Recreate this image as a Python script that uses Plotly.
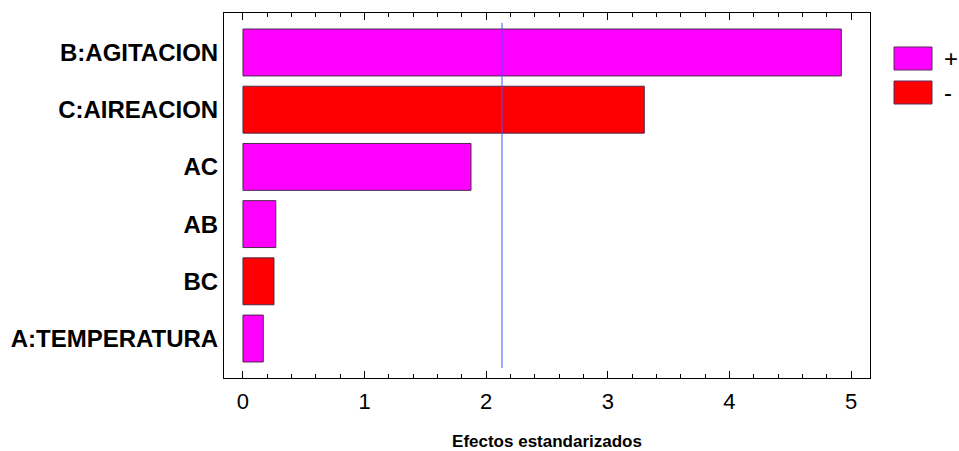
import plotly.graph_objects as go

# Standardized effects (Pareto chart), listed from largest to smallest
factors = ["B:AGITACION", "C:AIREACION", "AC", "AB", "BC", "A:TEMPERATURA"]
effects = [4.92, 3.30, 1.875, 0.27, 0.255, 0.167]
signs = ["+", "-", "+", "+", "-", "+"]
critical_value = 2.13

sign_colors = {"+": "#FF00FF", "-": "#FF0000"}
legend_labels = ["+", "-"]
font_family = "Liberation Sans, Arial, sans-serif"

fig = go.Figure()
fig.add_trace(go.Bar(
    x=effects,
    y=factors,
    orientation="h",
    marker=dict(color=[sign_colors[s] for s in signs],
                line=dict(color="#4a2a4a", width=1)),
    showlegend=False,
    hoverinfo="x+y",
))

# critical value reference line
fig.add_shape(type="line", xref="x", yref="paper",
              x0=critical_value, x1=critical_value, y0=0.027, y1=0.973,
              line=dict(color="#5050ff", width=1))

# legend boxes drawn at fixed size to the right of the plot frame
box_x0, box_x1 = 894, 932
box_tops = [47, 81]
W, H = 959, 451
L, R, T, B = 224, 89, 13, 73
pw, ph = W - L - R, H - T - B
for lab, top in zip(legend_labels, box_tops):
    fig.add_shape(type="rect", xref="paper", yref="paper",
                  x0=(box_x0 - L) / pw, x1=(box_x1 - L) / pw,
                  y0=1 - (top + 23 - T) / ph, y1=1 - (top - T) / ph,
                  fillcolor=sign_colors[lab],
                  line=dict(color="#5a2a5a", width=1))
    fig.add_annotation(xref="paper", yref="paper",
                       x=(942 - L) / pw, y=1 - (top + 11.5 - T) / ph,
                       text=lab, showarrow=False, xanchor="left", yanchor="middle",
                       font=dict(family=font_family, size=24, color="black"))

fig.update_layout(
    width=W, height=H,
    margin=dict(l=L, r=R, t=T, b=B, pad=0),
    paper_bgcolor="white", plot_bgcolor="white",
    bargap=0.18,
    font=dict(family=font_family, color="black"),
    xaxis=dict(
        range=[-0.156, 5.156],
        tickvals=[0, 1, 2, 3, 4, 5],
        ticks="inside", ticklen=7, tickwidth=1, tickcolor="black",
        minor=dict(dtick=0.2, ticks="inside", ticklen=4, tickcolor="black", tickwidth=1),
        showline=True, linecolor="black", linewidth=1, mirror="ticks",
        showgrid=False, zeroline=False,
        automargin=False,
        ticklabelstandoff=4,
        tickfont=dict(size=22, family=font_family),
        title=dict(text="<b>Efectos estandarizados</b>", standoff=24,
                   font=dict(size=17, family=font_family)),
    ),
    yaxis=dict(
        categoryorder="array", categoryarray=factors,
        range=[5.69, -0.69],
        showline=True, linecolor="black", linewidth=1, mirror=True,
        showgrid=False, zeroline=False, ticks="",
        automargin=False,
        ticklabelstandoff=0,
        tickfont=dict(size=24, family=font_family),
        tickprefix="<b>", ticksuffix="</b>",
    ),
)

fig.write_html("out.html")
